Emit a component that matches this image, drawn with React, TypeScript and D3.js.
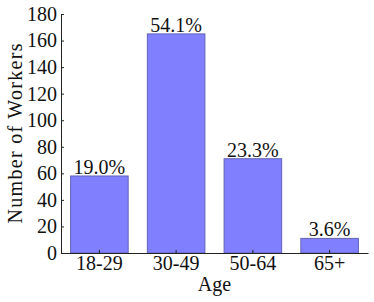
import React, { useEffect, useRef } from "react";
import * as d3 from "d3";

const ageGroups = ["18-29", "30-49", "50-64", "65+"];
const workers = [58, 165, 71, 11];
const shares = ["19.0%", "54.1%", "23.3%", "3.6%"];
const yTicks = [0, 20, 40, 60, 80, 100, 120, 140, 160, 180];

const App = () => {
  const ref = useRef<SVGSVGElement | null>(null);

  useEffect(() => {
    const width = 374;
    const height = 302;
    const margin = { top: 14, right: 6, bottom: 49, left: 61 };
    const font = "'Liberation Serif', 'DejaVu Serif', serif";
    const fs = "20px";

    const svg = d3.select(ref.current);
    svg.selectAll("*").remove();

    const x = d3
      .scaleBand()
      .domain(ageGroups)
      .range([margin.left, width - margin.right])
      .paddingInner(0.25)
      .paddingOuter(0.125);

    const y = d3
      .scaleLinear()
      .domain([0, 180])
      .range([height - margin.bottom, margin.top]);

    const g = svg.append("g");

    // bars
    g.selectAll("rect.bar")
      .data(workers)
      .enter()
      .append("rect")
      .attr("class", "bar")
      .attr("x", (d, i) => x(ageGroups[i])!)
      .attr("y", d => y(d))
      .attr("width", x.bandwidth())
      .attr("height", d => y(0) - y(d))
      .attr("fill", "#8080ff")
      .attr("stroke", "#6262b8")
      .attr("stroke-width", 1);

    // percentage labels
    g.selectAll("text.pct")
      .data(workers)
      .enter()
      .append("text")
      .attr("class", "pct")
      .attr("x", (d, i) => x(ageGroups[i])! + x.bandwidth() / 2)
      .attr("y", d => y(d) - 2)
      .attr("text-anchor", "middle")
      .style("font-family", font)
      .style("font-size", fs)
      .attr("fill", "#111")
      .text((d, i) => shares[i]);

    // y axis (ticks pointing inward)
    const yAxis = g
      .append("g")
      .attr("transform", `translate(${margin.left},0)`)
      .call(d3.axisLeft(y).tickValues(yTicks).tickSizeInner(-3).tickSizeOuter(0).tickPadding(4));
    yAxis.select(".domain").attr("stroke", "#222");
    yAxis.selectAll(".tick line").attr("stroke", "#222");
    yAxis
      .selectAll(".tick text")
      .style("font-family", font)
      .style("font-size", fs)
      .attr("fill", "#111");

    // x axis (ticks pointing inward)
    const xAxis = g
      .append("g")
      .attr("transform", `translate(0,${height - margin.bottom})`)
      .call(d3.axisBottom(x).tickSizeInner(-3).tickSizeOuter(0).tickPadding(3));
    xAxis.select(".domain").attr("stroke", "#222");
    xAxis.selectAll(".tick line").attr("stroke", "#222");
    xAxis
      .selectAll(".tick text")
      .style("font-family", font)
      .style("font-size", fs)
      .attr("fill", "#111");

    // axis titles
    g.append("text")
      .attr("x", (margin.left + width - margin.right) / 2)
      .attr("y", 291)
      .attr("text-anchor", "middle")
      .style("font-family", font)
      .style("font-size", fs)
      .attr("fill", "#111")
      .text("Age");

    g.append("text")
      .attr("transform", `translate(22,${(margin.top + height - margin.bottom) / 2}) rotate(-90)`)
      .attr("text-anchor", "middle")
      .attr("textLength", 180)
      .attr("lengthAdjust", "spacing")
      .style("font-family", font)
      .style("font-size", fs)
      .attr("fill", "#111")
      .text("Number of Workers");
  }, []);

  return (
    <svg
      ref={ref}
      width={374}
      height={302}
      style={{ position: "absolute", left: 0, top: 0, background: "#fff" }}
    />
  );
};

export default App;
